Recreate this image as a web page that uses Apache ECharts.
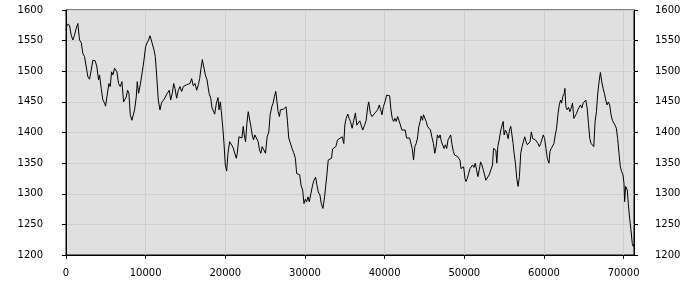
<!DOCTYPE html>
<html>
<head>
<meta charset="utf-8">
<script src="https://cdn.jsdelivr.net/npm/echarts@6/dist/echarts.min.js"></script>
<style>html,body{margin:0;padding:0;background:#fff;}#c{width:700px;height:300px;}</style>
</head>
<body>
<div id="c"></div>
<script>
var xValues = [0,147,440,650,859,1068,1278,1487,1697,1907,2116,2325,2535,2745,2954,3164,3373,3666,3876,4085,4211,4420,4630,4839,4965,5133,5384,5552,5720,5887,6097,6390,6600,6809,7018,7228,7437,7563,7731,7898,8066,8275,8401,8610,8820,8946,9113,9323,9574,9784,9993,10161,10370,10538,10706,10873,11041,11208,11418,11585,11795,12004,12256,12465,12717,12968,13136,13345,13513,13680,13890,14099,14309,14518,14728,14937,15147,15356,15566,15775,15985,16194,16404,16613,16781,16948,17116,17326,17493,17703,
17833,17958,18167,18333,18542,18667,18875,19083,19208,19375,19500,19708,19833,20000,20167,20333,20542,20750,20958,21167,21375,21500,21708,21917,22083,22250,22375,22542,22708,22875,23042,23208,23375,23542,23708,23917,24125,24292,24458,24625,24833,25042,25250,25458,25625,25833,26000,26167,26333,26500,26625,26792,26917,27083,27292,27458,27625,27792,27958,28167,28375,28583,28792,28958,29167,29333,29500,29708,29875,30042,30208,30375,30542,30750,30958,31125,31333,31500,31667,31875,32042,32250,32458,32625,32750,32917,33125,33333,33458,33667,33875,34083,34292,
34667,34875,35000,35167,35375,35542,35708,35917,36125,36333,36500,36708,36875,37042,37250,37458,37667,37875,38000,38208,38417,38625,38792,38958,39125,39333,39500,39667,39833,40042,40250,40458,40625,40792,40958,41125,41292,41458,41625,41792,41958,42167,42375,42583,42750,42917,43125,43292,43458,43625,43792,43958,44125,44292,44458,44583,44750,44875,45042,45208,45375,45583,45750,45917,46125,46292,46458,46625,46792,46958,47125,47292,47458,47625,47792,47958,48125,48292,48458,48625,48792,48958,49125,49292,49458,49583,49750,49917,50083,50208,50375,50542,50708,50875,51042,51208,51375,51542,51708,51875,52042,52208,52375,52542,52708,52875,
53125,53333,53542,53667,53833,53958,54083,54208,54375,54583,54750,54875,55000,55167,55333,55500,55667,55833,56000,56125,56250,56417,56583,56750,56917,57083,57250,57417,57583,57750,57917,58083,58250,58417,58583,58750,58917,59083,59250,59417,59583,59750,59917,60083,60250,60417,60625,60750,60917,61083,61250,61417,61583,61750,61917,62083,62208,62375,62542,62625,62750,62917,63083,63250,63417,63583,63750,63917,64083,64250,64417,64583,64750,64917,65083,65250,65417,65583,65750,65917,66083,66250,66417,66583,66750,66917,67083,67250,67417,67583,67750,67917,68083,68250,68417,68583,68750,68917,69083,69250,69417,69583,69750,69917,70042,70125,70250,70333,70458,70583,70750,70917,71083,71208,71300];
var yValues = [1567,1577,1575,1559,1551,1559,1570,1578,1551,1547,1529,1524,1522,1491,1487,1502,1518,1517,1507,1486,1494,1472,1453,1448,1443,1458,1480,1475,1499,1494,1505,1499,1480,1475,1483,1450,1448,1458,1469,1464,1429,1420,1418,1437,1458,1483,1464,1478,1499,1518,1540,1546,1551,1558,1551,1552,1535,1524,1486,1453,1437,1449,1453,1450,1464,1469,1453,1464,1480,1472,1456,1469,1475,1467,1475,1472,1478,1476,1480,1488,1476,1480,1469,1478,1488,1505,1519,1522,1494,1486,
1483,1464,1456,1440,1437,1430,1448,1457,1437,1450,1434,1404,1382,1347,1337,1366,1385,1382,1376,1374,1358,1366,1393,1396,1391,1410,1396,1385,1415,1434,1437,1410,1396,1388,1396,1398,1385,1371,1366,1377,1374,1366,1393,1401,1429,1442,1448,1459,1467,1468,1434,1426,1437,1434,1438,1440,1442,1420,1391,1391,1374,1367,1358,1333,1334,1331,1314,1306,1284,1291,1287,1295,1287,1301,1314,1322,1327,1314,1303,1298,1284,1276,1295,1298,1331,1355,1356,1358,1373,1374,1377,1388,1385,
1393,1382,1412,1423,1430,1423,1418,1407,1420,1432,1412,1410,1419,1418,1404,1411,1419,1442,1450,1431,1426,1423,1432,1429,1437,1445,1437,1429,1442,1450,1461,1459,1460,1437,1423,1418,1423,1418,1426,1420,1418,1404,1407,1404,1391,1389,1391,1388,1374,1355,1377,1382,1391,1410,1418,1427,1420,1429,1426,1418,1410,1407,1404,1393,1382,1366,1377,1396,1391,1396,1385,1382,1374,1380,1374,1388,1385,1396,1380,1369,1363,1366,1361,1363,1355,1341,1339,1344,1325,1320,1325,1333,1341,1339,1347,1343,1350,1339,1328,1339,1352,1347,1339,1331,1322,1320,
1331,1339,1347,1374,1376,1371,1350,1377,1388,1404,1407,1418,1396,1404,1399,1390,1404,1410,1412,1382,1366,1350,1325,1312,1328,1366,1377,1380,1393,1385,1380,1377,1385,1401,1390,1390,1388,1389,1382,1377,1382,1382,1396,1390,1374,1358,1350,1369,1374,1371,1382,1396,1407,1429,1445,1453,1448,1459,1464,1472,1442,1437,1441,1434,1440,1448,1423,1426,1431,1437,1434,1445,1440,1448,1450,1453,1440,1415,1390,1382,1385,1377,1418,1434,1464,1483,1498,1483,1472,1464,1453,1445,1450,1445,1429,1420,1418,1412,1407,1390,1366,1344,1336,1331,1317,1287,1312,1314,1306,1284,1260,1241,1219,1214,1218];
var xTicks = [0,10000,20000,30000,40000,50000,60000,70000];
var yTicks = [1200,1250,1300,1350,1400,1450,1500,1550,1600];

var data = xValues.map(function(x,i){return [x,yValues[i]];});
var font = {fontFamily:'DejaVu Sans', fontSize:10, color:'#000', formatter:function(v){return String(v);}};
var chart = echarts.init(document.getElementById('c'), null, {renderer:'canvas'});
function yAxis(pos, margin, split){
  return {
    type:'value', position:pos, min:1200, max:1600, interval:50,
    axisLine:{show:true, lineStyle:{color:'#000', width:1}},
    axisTick:{show:true, length:4, lineStyle:{color:'#000'}},
    axisLabel:Object.assign({margin:margin, customValues:yTicks}, font),
    splitLine:{show:split, lineStyle:{color:'#cfcfcf', width:1}}
  };
}
chart.setOption({
  animation:false,
  grid:{left:66, right:66, top:10, bottom:45, show:true, backgroundColor:'#e0e0e0', borderColor:'#000', borderWidth:1, containLabel:false},
  xAxis:{
    type:'value', min:0, max:71300, interval:10000,
    axisLine:{show:true, onZero:false, lineStyle:{color:'#000', width:1}},
    axisTick:{show:true, length:4, customValues:xTicks, lineStyle:{color:'#000'}},
    axisLabel:Object.assign({margin:13, customValues:xTicks}, font),
    splitLine:{show:true, lineStyle:{color:'#cfcfcf', width:1}}
  },
  yAxis:[yAxis('left',23,true), yAxis('right',21,false)],
  series:[{
    type:'line', data:data, showSymbol:false, symbol:'none',
    lineStyle:{color:'#000', width:1}, itemStyle:{color:'#000'}
  }]
});
</script>
</body>
</html>
